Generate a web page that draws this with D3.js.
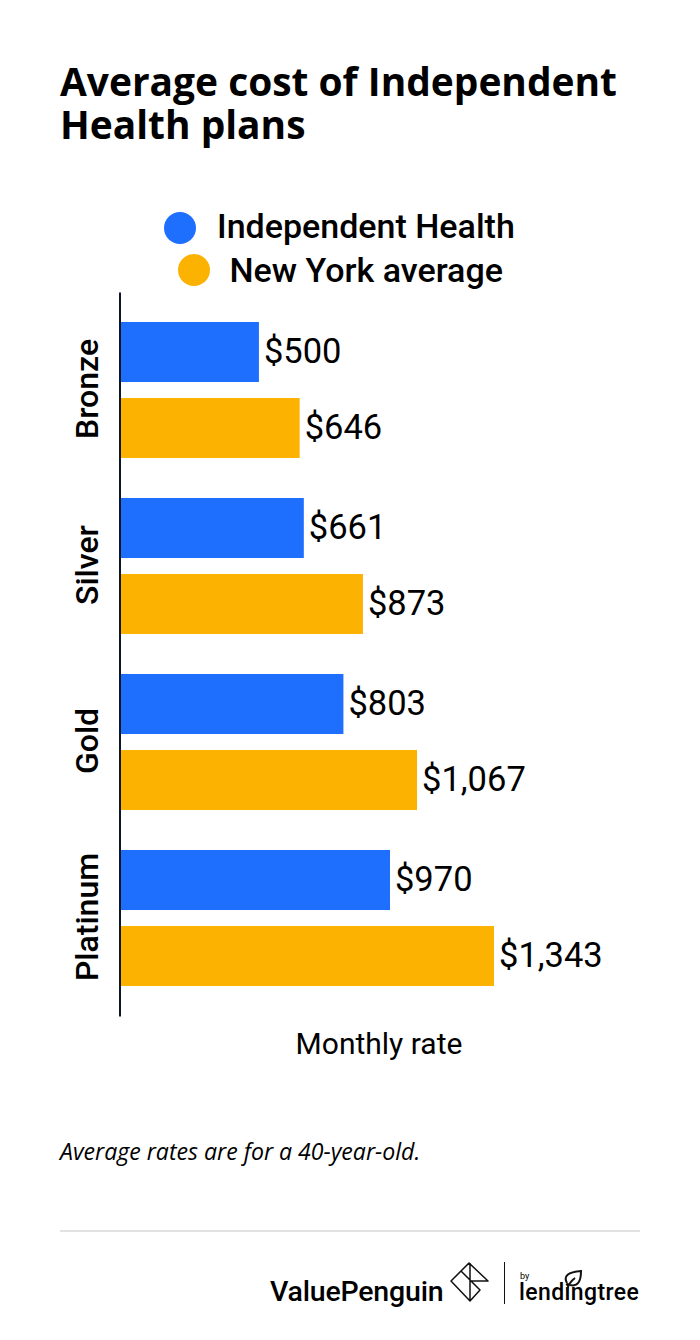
<!DOCTYPE html>
<html>
<head>
<meta charset="utf-8">
<script src="https://cdn.jsdelivr.net/npm/d3@7"></script>
<style>
html, body { margin: 0; padding: 0; background: #fff; }
svg { font-family: Roboto, sans-serif; }
text { fill: #000; }
</style>
</head>
<body>
<svg id="chart" width="700" height="1340"></svg>
<script>
// Values
var plans = ["Bronze", "Silver", "Gold", "Platinum"];
var series_names = ["Independent Health", "New York average"];
var independent_health = [500, 661, 803, 970];
var new_york_average = [646, 873, 1067, 1343];
var series_colors = ["#1f6fff", "#fbb200"];

var svg = d3.select("#chart");

// Scales
var x = d3.scaleLinear().domain([0, 1343]).range([119.5, 494]);
var y = d3.scaleBand().domain(plans).range([310, 1014]).paddingInner(0).paddingOuter(0);
var y_series = d3.scaleBand().domain(series_names).range([12, 148]).paddingInner(16 / 76).paddingOuter(0);

// Title
svg.append("text").attr("x", 60).attr("y", 96).attr("font-family", "'Open Sans'").attr("font-size", 38.9).attr("font-weight", 700).text("Average cost of Independent");
svg.append("text").attr("x", 60).attr("y", 139).attr("font-family", "'Open Sans'").attr("font-size", 38.9).attr("font-weight", 700).text("Health plans");

// Legend
var legend_rows = [
    { cx: 180, tx: 217, y: 228, ty: 238 },
    { cx: 194, tx: 229.5, y: 270, ty: 282 }
];
series_names.forEach(function(name, i) {
    svg.append("circle").attr("cx", legend_rows[i].cx).attr("cy", legend_rows[i].y).attr("r", 16).attr("fill", series_colors[i]);
    svg.append("text").attr("x", legend_rows[i].tx).attr("y", legend_rows[i].ty)
        .attr("font-size", 34).attr("font-weight", 500).text(name);
});

// Bars
var groups = svg.selectAll("g.plan").data(plans).enter().append("g")
    .attr("class", "plan")
    .attr("transform", function(d) { return "translate(0," + y(d) + ")"; });

[independent_health, new_york_average].forEach(function(values, s) {
    groups.append("rect")
        .attr("x", x(0))
        .attr("y", y_series(series_names[s]))
        .attr("width", function(d, i) { return x(values[i]) - x(0); })
        .attr("height", y_series.bandwidth())
        .attr("fill", series_colors[s]);

    groups.append("text")
        .attr("x", function(d, i) { return x(values[i]) + 5; })
        .attr("y", y_series(series_names[s]) + y_series.bandwidth() / 2 + 10.5)
        .attr("font-size", 34.5)
        .text(function(d, i) { return "$" + d3.format(",")(values[i]); });
});

// Category labels
groups.append("text")
    .attr("transform", "translate(98,79) rotate(-90)")
    .attr("text-anchor", "middle")
    .attr("font-size", 32)
    .attr("font-weight", 500)
    .text(function(d) { return d; });

// Axis line
var y_axis = d3.axisLeft(d3.scaleLinear().range([292, 1016])).ticks(0).tickSize(0);
svg.append("g").attr("transform", "translate(" + x(0) + ",0)").call(y_axis)
    .select(".domain").attr("stroke", "#0d1626").attr("stroke-width", 2);

// Axis title
svg.append("text").attr("x", 379).attr("y", 1054).attr("text-anchor", "middle").attr("font-size", 30).text("Monthly rate");

// Note
svg.append("text").attr("x", 60).attr("y", 1160).attr("font-family", "'Open Sans'").attr("font-size", 23.1).attr("font-style", "italic").text("Average rates are for a 40-year-old.");

// Footer rule
svg.append("line").attr("x1", 60).attr("x2", 640).attr("y1", 1231).attr("y2", 1231).attr("stroke", "#d9d9d9").attr("stroke-width", 1.5);

// ValuePenguin logo
svg.append("text").attr("x", 270).attr("y", 1301).attr("font-size", 28.5).attr("font-weight", 500).attr("letter-spacing", -0.2).text("ValuePenguin");
svg.append("path")
    .attr("d", "M469 1263 L488 1281 L471 1281 L480 1290 L470 1301 L451 1281 Z M470 1263 L470 1301 M461 1271 L471 1281")
    .attr("fill", "none").attr("stroke", "#111").attr("stroke-width", 1.5).attr("stroke-linejoin", "round");

// Divider
svg.append("line").attr("x1", 504.5).attr("x2", 504.5).attr("y1", 1262).attr("y2", 1304).attr("stroke", "#111").attr("stroke-width", 1);

// lendingtree logo
svg.append("text").attr("x", 520).attr("y", 1279).attr("font-size", 9).text("by");
svg.append("text").attr("x", 519).attr("y", 1300).attr("font-size", 23).attr("font-weight", 500).attr("letter-spacing", 0.4).text("lendingtree");
svg.append("path")
    .attr("d", "M567 1283 C563 1276 568 1272 581 1271 C581 1281 578 1287 570 1285 M567 1290 C568 1285 571 1281 575 1278")
    .attr("fill", "none").attr("stroke", "#111").attr("stroke-width", 2);
</script>
</body>
</html>
